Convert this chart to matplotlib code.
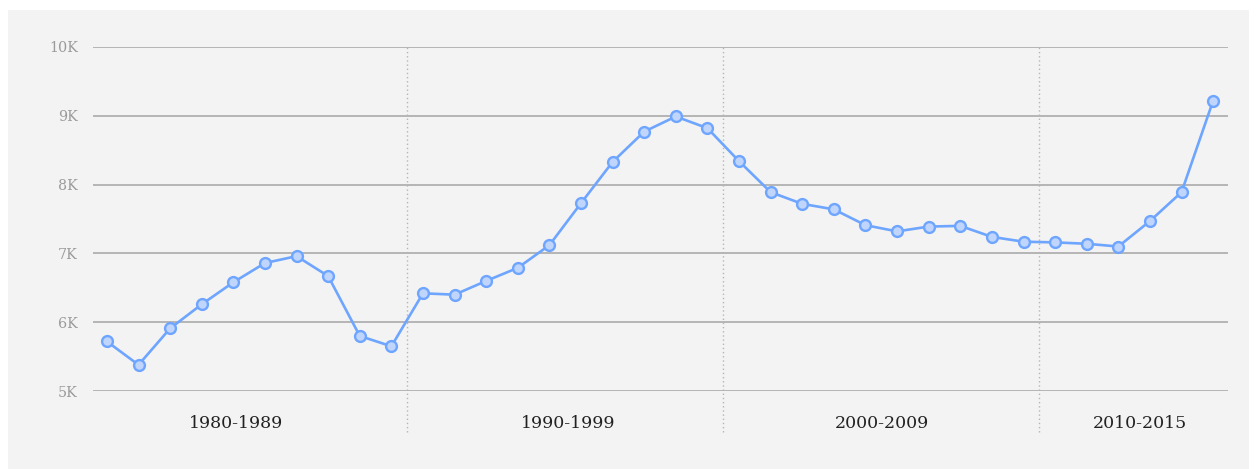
import numpy as np
import matplotlib.pyplot as plt
from matplotlib.patches import Rectangle

# values per year, 1980-2015
years = list(range(1980, 2016))
values = [5720, 5380, 5910, 6260, 6580, 6860, 6960, 6670, 5800, 5650,
          6420, 6400, 6600, 6790, 7120, 7730, 8330, 8770, 8990, 8820,
          8340, 7890, 7720, 7640, 7410, 7320, 7390, 7400, 7240, 7170,
          7160, 7140, 7100, 7470, 7890, 9220]
groups = ['1980-1989', '1990-1999', '2000-2009', '2010-2015']
group_sizes = [10, 10, 10, 6]
yticks = [5000, 6000, 7000, 8000, 9000, 10000]
ytick_labels = ['5K', '6K', '7K', '8K', '9K', '10K']

W, H = 1257, 469
fig = plt.figure(figsize=(W / 100, H / 100), dpi=100)
fig.patch.set_facecolor('white')
fig.patches.append(Rectangle((8 / W, 0), (W - 16) / W, 1 - 10 / H,
                             transform=fig.transFigure, fc='#f3f3f3', ec='none', zorder=-10))

ax = fig.add_axes([93 / W, 1 - 391 / H, 1135 / W, 344 / H])
ax.set_facecolor('none')
x = np.arange(len(values))
ax.plot(x, values, color='#6ea5ff', lw=1.9, marker='o', ms=7.8,
        mfc='#bfd5fc', mec='#6ea5ff', mew=1.7, zorder=3, clip_on=False)

ax.set_xlim(-0.44, 35.47)
ax.set_ylim(5000, 10000)
ax.set_yticks(yticks)
ax.set_yticklabels(ytick_labels, family='DejaVu Serif', fontsize=10.3, color='#9a9a9a')
ax.tick_params(axis='y', length=0, pad=11)
ax.set_xticks([])
for yv in yticks:
    ax.axhline(yv, color='#aaaaaa', lw=1.2, zorder=1)
for s in ax.spines.values():
    s.set_visible(False)

# group separators and labels
edges = np.cumsum(group_sizes)
trans = ax.get_xaxis_transform()
for e in edges[:-1]:
    ax.plot([e - 0.5, e - 0.5], [-0.119, 1.0], transform=trans, color='#b5b5b5',
            lw=1, ls=(0, (1, 2)), clip_on=False, zorder=1)
label_pos = [4.1, 14.59, 24.53, 32.69]
for g, px in zip(groups, label_pos):
    ax.text(px, -0.095, g, transform=trans, ha='center', va='center',
            family='DejaVu Serif', fontsize=12.5, color='#222222')

plt.savefig('out.png', dpi=100)
